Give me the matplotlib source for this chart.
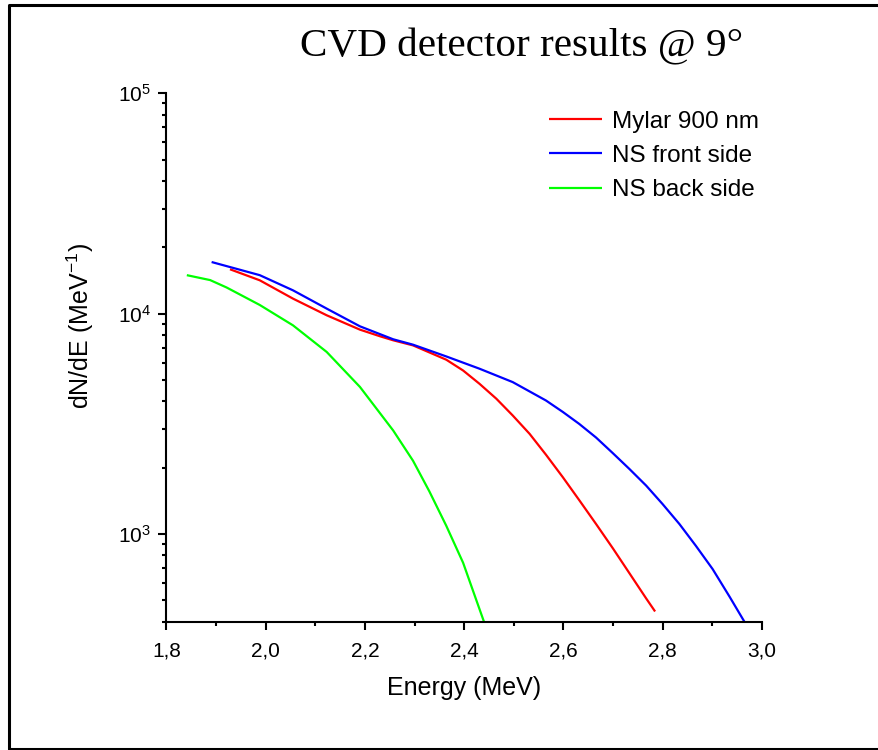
import math

import matplotlib
matplotlib.use("Agg")
import matplotlib.pyplot as plt
from matplotlib.lines import Line2D
from matplotlib.ticker import FixedLocator, FuncFormatter, LogLocator, NullFormatter

plt.rcParams["font.family"] = ["Liberation Sans", "DejaVu Sans"]
plt.rcParams["mathtext.fontset"] = "custom"
plt.rcParams["mathtext.rm"] = "Liberation Sans"
plt.rcParams["mathtext.it"] = "Liberation Sans:italic"

# values (energy in MeV, dN/dE in 1/MeV)
mylar_e = [1.928, 1.988, 2.055, 2.123, 2.190, 2.230, 2.257, 2.297, 2.364, 2.398,
           2.431, 2.465, 2.498, 2.532, 2.565, 2.599, 2.632, 2.666, 2.700, 2.733,
           2.767, 2.785]
mylar_n = [15900, 14170, 11700, 9830, 8460, 7900, 7570, 7177, 6180, 5520,
           4805, 4110, 3450, 2848, 2290, 1810, 1425, 1110, 860, 665,
           510, 445]

front_e = [1.891, 1.988, 2.055, 2.123, 2.190, 2.257, 2.297, 2.364, 2.431, 2.498,
           2.565, 2.599, 2.632, 2.666, 2.700, 2.733, 2.767, 2.800, 2.834, 2.867,
           2.901, 2.935, 2.965]
front_n = [17150, 14950, 12760, 10540, 8760, 7650, 7230, 6395, 5625, 4890,
           4035, 3580, 3160, 2740, 2325, 1975, 1658, 1368, 1110, 885,
           693, 520, 400]

back_e = [1.841, 1.888, 1.921, 1.988, 2.055, 2.123, 2.190, 2.257, 2.297, 2.330,
          2.364, 2.398, 2.440]
back_n = [14950, 14200, 13150, 10950, 8850, 6700, 4650, 2950, 2150, 1560,
          1090, 740, 400]

series_labels = ["Mylar 900 nm", "NS front side", "NS back side"]
series_colors = ["#ff0000", "#0000ff", "#00ff00"]
energy_ticks = [1.8, 2.0, 2.2, 2.4, 2.6, 2.8, 3.0]
energy_minor = [1.9, 2.1, 2.3, 2.5, 2.7, 2.9]

fig = plt.figure(figsize=(8.79, 7.5), dpi=100)
ax = fig.add_axes([0.1894, 0.1711, 0.6772, 0.7045])

for e, n, lab, col in zip([mylar_e, front_e, back_e], [mylar_n, front_n, back_n],
                          series_labels, series_colors):
    ax.plot(e, n, color=col, lw=1.6, label=lab, solid_capstyle="butt")

ax.set_yscale("log")
ax.set_xlim(1.8, 3.0)
ax.set_ylim(400, 1e5)

ax.xaxis.set_major_locator(FixedLocator(energy_ticks))
ax.xaxis.set_minor_locator(FixedLocator(energy_minor))
ax.xaxis.set_major_formatter(FuncFormatter(lambda v, p: f"{v:.1f}".replace(".", ",")))
ax.yaxis.set_major_locator(LogLocator(base=10, numticks=10))
ax.yaxis.set_minor_locator(LogLocator(base=10, subs=range(2, 10), numticks=20))
ax.yaxis.set_major_formatter(
    FuncFormatter(lambda v, p: r"$\mathregular{10^{%d}}$" % round(math.log10(v))))
ax.yaxis.set_minor_formatter(NullFormatter())

for side in ("top", "right"):
    ax.spines[side].set_visible(False)
for side in ("left", "bottom"):
    ax.spines[side].set_linewidth(1.5)

ax.tick_params(which="major", direction="out", length=6, width=1.5, labelsize=15)
ax.tick_params(which="minor", direction="out", length=3, width=1.5)
ax.tick_params(axis="x", which="major", pad=8)
ax.tick_params(axis="y", which="major", pad=5)

ax.set_xlabel("Energy (MeV)", fontsize=18)
ax.set_ylabel(r"dN/dE (MeV$^{\mathregular{-1}}$)", fontsize=18)
ax.xaxis.set_label_coords(0.5, -0.103)
ax.yaxis.set_label_coords(-0.118, 0.56)

ax.legend(loc="upper left", bbox_to_anchor=(0.622, 0.99), frameon=False,
          fontsize=17.5, handlelength=2.2, handletextpad=0.4,
          labelspacing=0.5, borderpad=0)

fig.text(0.593, 0.925, "CVD detector results @ 9°", fontsize=29.6,
         family=["Liberation Serif", "DejaVu Serif"], ha="center", va="baseline")

# outer frame (right edge falls outside the picture in the reference)
frame_x = [1.2, 0.0108, 0.0108, 1.2]
frame_y = [0.9927, 0.9927, 0.002, 0.002]
fig.add_artist(Line2D(frame_x, frame_y, transform=fig.transFigure, color="black", lw=2.2))

fig.savefig("out.png", dpi=100)
